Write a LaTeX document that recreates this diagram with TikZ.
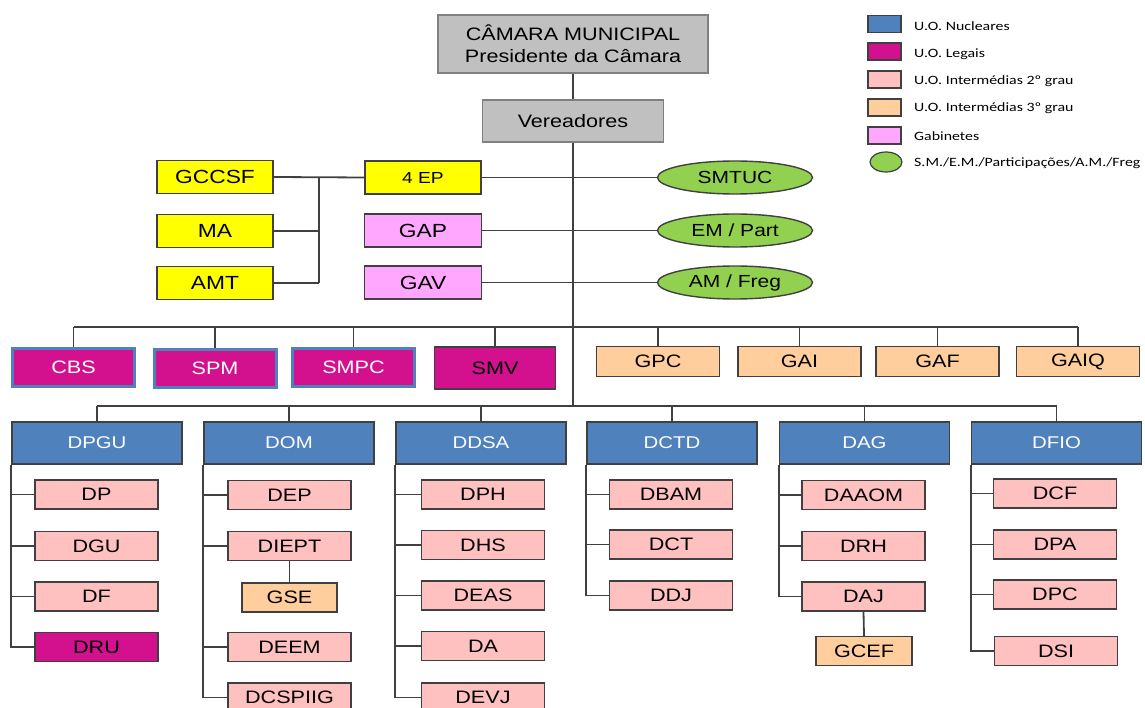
\documentclass[tikz,border=0pt]{standalone}
\usepackage{fontspec}
\setmainfont{Liberation Sans}[FakeStretch=1.2]
\newfontfamily\legfont{Carlito}[FakeStretch=1.25]
\usetikzlibrary{shapes.geometric}
\definecolor{linec}{HTML}{404040}
\definecolor{greyc}{HTML}{C0C0C0}
\definecolor{greyb}{HTML}{808080}
\definecolor{yelc}{HTML}{FFFF00}
\definecolor{gabc}{HTML}{FFA6FF}
\definecolor{greenc}{HTML}{92D050}
\definecolor{magc}{HTML}{D3108E}
\definecolor{bluec}{HTML}{4F81BD}
\definecolor{pinkc}{HTML}{FFC0C0}
\definecolor{orc}{HTML}{FFCE9C}
\newcommand\fsz[2]{\fontsize{#1}{#2}\selectfont}
\tikzset{
  base/.style={draw=linec, line width=1.4pt, inner sep=0pt, text=black, font=\fsz{18}{22}},
  greybox/.style={base, fill=greyc, draw=greyb},
  yelbox/.style={base, fill=yelc, minimum width=116, minimum height=33, font=\fsz{19}{22}},
  gabbox/.style={base, fill=gabc, minimum width=117, minimum height=33, font=\fsz{19}{22}},
  ellbox/.style={base, ellipse, fill=greenc, minimum width=155, minimum height=33, font=\fsz{17.5}{22}},
  legalbox/.style={base, fill=magc, draw=bluec, line width=3pt, minimum width=122, minimum height=38, text=white},
  smvbox/.style={base, fill=magc, minimum width=121, minimum height=42},
  orbox/.style={base, fill=orc, minimum width=123, minimum height=30},
  nucbox/.style={base, fill=bluec, minimum width=170, minimum height=42, text=white, font=\fsz{17}{22}},
  subbox/.style={base, fill=pinkc, minimum width=123, minimum height=29},
  conn/.style={draw=linec, line width=1.8pt},
  legsw/.style={draw=linec, line width=1.2pt, minimum width=33, minimum height=17, inner sep=0pt},
  legtxt/.style={anchor=west, inner sep=0pt, font=\legfont\fsz{12.7}{14}, text=black}
}
\begin{document}
\begin{tikzpicture}[x=1pt,y=-1pt]
\useasboundingbox (0,0) rectangle (1145,708);
% top
\node[greybox, minimum width=270, minimum height=58, align=center] (cam) at (573,44) {CÂMARA MUNICIPAL\\Presidente da Câmara};
\node[greybox, minimum width=181, minimum height=42] (ver) at (573,121) {Vereadores};
% left yellow
\node[yelbox] (gccsf) at (215,177) {GCCSF};
\node[yelbox] (ma) at (215,231) {MA};
\node[yelbox] (amt) at (215,283) {AMT};
\node[yelbox, font=\fsz{16}{20}] (ep) at (423,177.5) {4 EP};
\node[gabbox] (gap) at (423,230.5) {GAP};
\node[gabbox] (gav) at (423,282.5) {GAV};
\node[ellbox] (smtuc) at (735,177.5) {SMTUC};
\node[ellbox] (em) at (735,230.5) {EM / Part};
\node[ellbox] (am) at (735,282.5) {AM / Freg};
\coordinate (brk) at (319,0);
\coordinate (bus1) at (573,327);
\coordinate (bus2) at (573,406);
% row boxes
\node[legalbox] (cbs) at (73.5,367) {CBS};
\node[legalbox] (spm) at (215,368) {SPM};
\node[legalbox] (smpc) at (353.5,367) {SMPC};
\node[smvbox] (smv) at (495,368) {SMV};
\node[orbox] (gpc) at (658,361.5) {GPC};
\node[orbox] (gai) at (799.5,361.5) {GAI};
\node[orbox] (gaf) at (937.5,361.5) {GAF};
\node[orbox] (gaiq) at (1078,361.5) {GAIQ};
% nuclear
\node[nucbox] (dpgu) at (97,443) {DPGU};
\node[nucbox] (dom) at (289,443) {DOM};
\node[nucbox] (ddsa) at (481,443) {DDSA};
\node[nucbox] (dctd) at (672,443) {DCTD};
\node[nucbox] (dag) at (864.5,443) {DAG};
\node[nucbox] (dfio) at (1056.5,443) {DFIO};
% DPGU children
\node[subbox] (dp) at (96.5,494.5) {DP};
\node[subbox] (dgu) at (96.5,546) {DGU};
\node[subbox] (df) at (96.5,596.5) {DF};
\node[smvbox, minimum width=123, minimum height=29] (dru) at (96.5,647) {DRU};
% DOM
\node[subbox] (dep) at (289.5,495) {DEP};
\node[subbox] (diept) at (289.5,546) {DIEPT};
\node[orbox, minimum width=95, minimum height=29] (gse) at (289.5,597.5) {GSE};
\node[subbox] (deem) at (289.5,647) {DEEM};
\node[subbox] (dcs) at (289.5,697.5) {DCSPIIG};
% DDSA
\node[subbox] (dph) at (483,494.5) {DPH};
\node[subbox] (dhs) at (483,545) {DHS};
\node[subbox] (deas) at (483,595.5) {DEAS};
\node[subbox] (da) at (483,646) {DA};
\node[subbox] (devj) at (483,697.5) {DEVJ};
% DCTD
\node[subbox] (dbam) at (671,494.5) {DBAM};
\node[subbox] (dct) at (671,544.5) {DCT};
\node[subbox] (ddj) at (671,595.5) {DDJ};
% DAG
\node[subbox] (daaom) at (863.5,495) {DAAOM};
\node[subbox] (drh) at (863.5,546) {DRH};
\node[subbox] (daj) at (863.5,596.5) {DAJ};
\node[orbox, minimum width=96, minimum height=29] (gcef) at (864,651) {GCEF};
% DFIO
\node[subbox] (dcf) at (1055,493.5) {DCF};
\node[subbox] (dpa) at (1055,544.5) {DPA};
\node[subbox] (dpc) at (1055,594.5) {DPC};
\node[subbox] (dsi) at (1056,651) {DSI};
% connectors top
\draw[conn] (cam.south) -- (ver.north);
\draw[conn] (ver.south) -- (bus2);
\draw[conn] (gccsf.east) -- (ep.west);
\draw[conn] (ma.east) -- (ma.east -| brk);
\draw[conn] (amt.east) -- (amt.east -| brk);
\draw[conn] (gccsf.east -| brk) -- (amt.east -| brk);
\draw[conn] (ep.east) -- (smtuc.west);
\draw[conn] (gap.east) -- (em.west);
\draw[conn] (gav.east) -- (am.west);
% bus 1
\draw[conn] (cbs.north |- bus1) -- (gaiq.north |- bus1);
\foreach \n in {cbs,spm,smpc,smv,gpc,gai,gaf,gaiq} \draw[conn] (\n.north) -- (\n.north |- bus1);
% bus 2
\draw[conn] (dpgu.north |- bus2) -- (dfio.north |- bus2);
\foreach \n in {dpgu,dom,ddsa,dctd,dag,dfio} \draw[conn] (\n.north) -- (\n.north |- bus2);
% children
\foreach \n in {dp,dgu,df,dru} \draw[conn] (dpgu.south west) |- (\n.west);
\foreach \n in {dep,diept,deem,dcs} \draw[conn] (dom.south west) |- (\n.west);
\foreach \n in {dph,dhs,deas,da,devj} \draw[conn] (ddsa.south west) |- (\n.west);
\foreach \n in {dbam,dct,ddj} \draw[conn] (dctd.south west) |- (\n.west);
\foreach \n in {daaom,drh,daj} \draw[conn] (dag.south west) |- (\n.west);
\foreach \n in {dcf,dpa,dpc,dsi} \draw[conn] (dfio.south west) |- (\n.west);
\draw[conn] (diept.south) -- (gse.north);
\draw[conn] (daj.south) -- (gcef.north);
% legend
\node[legsw, fill=bluec] (l1) at (884.5,24) {};
\node[legsw, fill=magc] (l2) at (884.5,51.5) {};
\node[legsw, fill=pinkc] (l3) at (884.5,79.5) {};
\node[legsw, fill=orc] (l4) at (884.5,107.5) {};
\node[legsw, fill=gabc] (l5) at (884.5,135.5) {};
\node[legsw, ellipse, fill=greenc, minimum width=32, minimum height=20] (l6) at (886,162) {};
\node[legtxt] (t1) at (914,26) {U.O. Nucleares};
\node[legtxt] (t2) at (914,54) {U.O. Legais};
\node[legtxt] (t3) at (914,81) {U.O. Intermédias 2º grau};
\node[legtxt] (t4) at (914,108) {U.O. Intermédias 3º grau};
\node[legtxt] (t5) at (914,136) {Gabinetes};
\node[legtxt] (t6) at (914,163) {S.M./E.M./Participações/A.M./Freg};
\end{tikzpicture}
\end{document}
